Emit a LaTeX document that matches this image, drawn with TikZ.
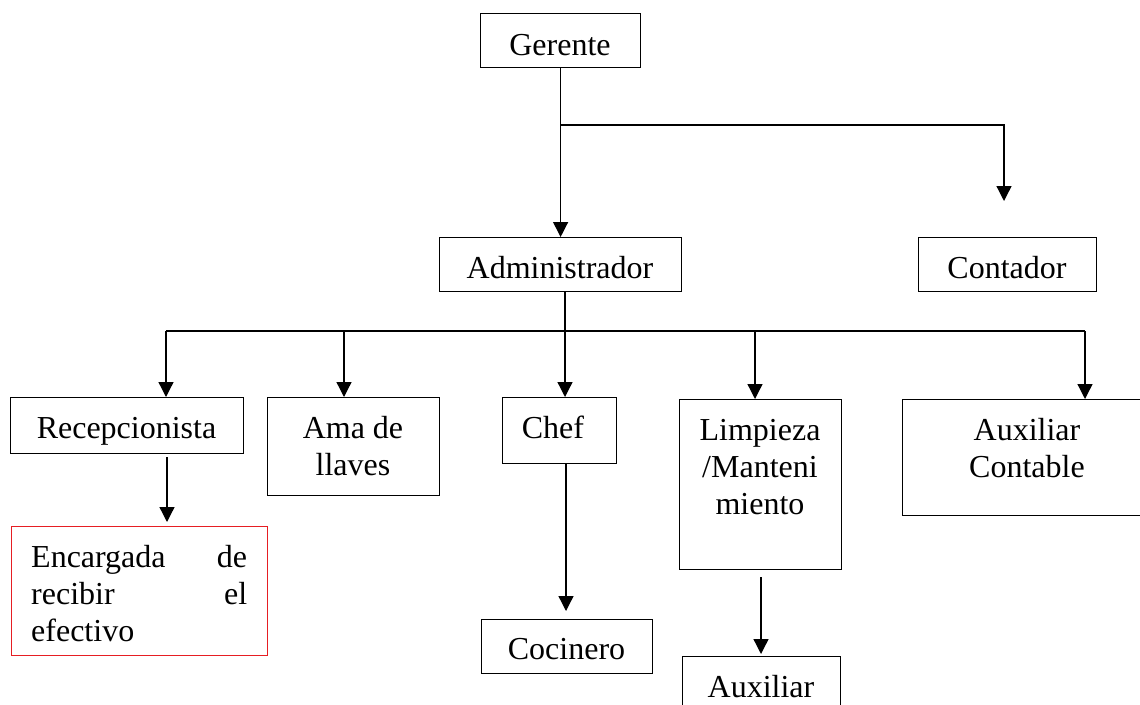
\documentclass[tikz,border=0pt]{standalone}
\usepackage{fontspec}
\setmainfont{Liberation Serif}
\usetikzlibrary{arrows.meta}
\definecolor{encred}{RGB}{230,30,35}
\begin{document}
\begin{tikzpicture}[x=1pt,y=-1pt,
  box/.style={draw, line width=1.2pt, inner sep=0pt, anchor=north west},
  lbl/.style={inner sep=0pt, anchor=base, font=\fontsize{32}{37}\selectfont},
  arr/.style={line width=1.3pt, -{Triangle[width=15pt,length=15pt]}},
  ln/.style={line width=1.3pt}]
\useasboundingbox (0,0) rectangle (1140,704);

% boxes
\node[box, minimum width=160pt, minimum height=54pt] (ger) at (480,13) {};
\node[box, minimum width=242pt, minimum height=54pt] (adm) at (439,237) {};
\node[box, minimum width=178pt, minimum height=54pt] (con) at (918,237) {};
\node[box, minimum width=233pt, minimum height=56pt] (rec) at (10,397) {};
\node[box, minimum width=172pt, minimum height=98pt] (ama) at (267,397) {};
\node[box, minimum width=114pt, minimum height=66pt] (chef) at (502,397) {};
\node[box, minimum width=162pt, minimum height=170pt] (lim) at (679,399) {};
\node[box, minimum width=250pt, minimum height=116pt] (auxc) at (902,399) {};
\node[box, draw=encred, minimum width=256pt, minimum height=129pt] (enc) at (11,526) {};
\node[box, minimum width=171pt, minimum height=54pt] (coc) at (481,619) {};
\node[box, minimum width=158pt, minimum height=60pt] (aux) at (682,656) {};

% texts
\node[lbl] (gerT) at (560,55) {Gerente};
\node[lbl] (admT) at (560,278) {Administrador};
\node[lbl] (conT) at (1007,278) {Contador};
\node[lbl] (recT) at (126.5,438) {Recepcionista};
\node[lbl] (amaT) at (353,438) {\parbox[t]{160pt}{\centering Ama de\\llaves}};
\node[lbl] (chefT) at (553,438) {Chef};
\node[lbl] (limT) at (760,440) {\parbox[t]{160pt}{\centering Limpieza\\/Manteni\\miento}};
\node[lbl] (auxcT) at (1027,440) {\parbox[t]{200pt}{\centering Auxiliar\\Contable}};
\node[lbl, anchor=base west] (encT) at (31,567) {\parbox[t]{216pt}{Encargada\hfill de\\recibir\hfill el\\efectivo}};
\node[lbl] (cocT) at (566.5,659) {Cocinero};
\node[lbl] (auxT) at (761,697) {Auxiliar};

% connector points
\coordinate (gj) at (560,125);
\coordinate (ctip) at (1004,201);
\coordinate (aj) at (565,331);
\coordinate (hl) at (166,331);
\coordinate (hr) at (1085,331);
\coordinate (amaA) at (344,331);
\coordinate (limA) at (755,331);
\coordinate (rs) at (167,457);
\coordinate (rt) at (167,522);
\coordinate (cct) at (566,611);
\coordinate (ls) at (761,577);
\coordinate (lt) at (761,654);

% connectors
\draw[arr] (ger.south) -- (ger.south |- adm.north);
\draw[arr] (gj) -| (ctip);
\draw[ln] (adm.south -| aj) -- (aj);
\draw[ln] (hl) -- (hr);
\draw[arr] (hl) -- (hl |- rec.north);
\draw[arr] (amaA) -- (amaA |- ama.north);
\draw[arr] (aj) -- (aj |- chef.north);
\draw[arr] (limA) -- (limA |- lim.north);
\draw[arr] (hr) -- (hr |- auxc.north);
\draw[arr] (rs) -- (rt);
\draw[arr] (chef.south -| cct) -- (cct);
\draw[arr] (ls) -- (lt);
\end{tikzpicture}
\end{document}
